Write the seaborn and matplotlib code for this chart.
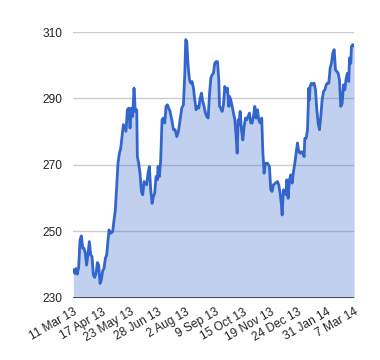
import pandas as pd
import matplotlib
matplotlib.use("Agg")
import matplotlib.pyplot as plt
import seaborn as sns

# positions, in days after 11 Mar 2013, and the price at each
days = [0, 2.1, 3.4, 5.1, 6.9, 8.6, 10.3, 12.0, 13.7, 15.4,
        17.1, 18.9, 20.6, 22.3, 24.0, 25.7, 27.4, 29.2, 30.9, 32.6,
        34.3, 36.0, 37.7, 39.4, 41.2, 42.9, 44.6, 45.9, 48.0, 50.6,
        52.3, 54.0, 55.7, 57.4, 59.2, 60.9, 62.6, 64.3, 66.0, 67.7,
        69.4, 71.2, 72.9, 74.6, 76.3, 78.0, 79.7, 81.5, 82.3, 84.0,
        85.7, 87.5, 89.2, 90.9, 92.6, 94.3, 96.0, 97.7, 99.5, 101.2,
        102.9, 104.6, 106.3, 108.0, 108.9, 110.6, 112.3, 114.0, 115.7, 117.5,
        119.2, 120.9, 122.6, 124.3, 126.5, 128.7, 130.8, 133.0, 135.1, 137.3,
        139.4, 141.5, 143.3, 144.5, 145.8, 147.6, 149.3, 151.0, 152.7, 154.4,
        156.1, 157.8, 159.6, 161.3, 163.0, 164.7, 166.4, 168.1, 169.8, 171.6,
        173.3, 175.0, 176.7, 178.4, 180.1, 181.8, 183.6, 185.3, 187.0, 187.9,
        189.6, 191.3, 193.0, 194.7, 196.4, 198.1, 199.9, 200.7, 202.4, 204.1,
        205.9, 207.6, 209.3, 210.6, 211.9, 213.1, 214.4, 216.1, 217.9, 219.6,
        221.3, 223.0, 224.7, 226.4, 228.1, 229.9, 231.6, 233.3, 235.0, 236.7,
        238.4, 240.1, 242.2, 243.5, 245.2, 246.9, 249.5, 252.1, 253.8, 255.5,
        257.2, 259.8, 262.4, 264.1, 265.8, 267.5, 268.4, 270.1, 271.8, 273.5,
        274.4, 276.1, 277.8, 279.5, 281.3, 283.0, 284.7, 286.4, 288.1, 289.8,
        291.5, 293.3, 295.0, 296.7, 297.5, 299.3, 301.0, 302.7, 303.5, 304.4,
        306.1, 307.8, 309.5, 311.3, 313.0, 314.7, 316.4, 318.1, 319.8, 321.6,
        323.3, 325.0, 326.7, 328.4, 330.1, 331.8, 333.6, 335.3, 337.0, 338.7,
        340.4, 342.1, 343.8, 345.6, 347.3, 349.0, 350.7, 352.4, 354.1, 355.0,
        356.7, 357.5, 359.2, 361.0]
price = [238.5, 237.3, 238.8, 237.1, 239.3, 247.4, 248.6, 244.9, 244.9, 243.4,
         239.8, 243.4, 246.9, 242.9, 242.4, 236.8, 236.1, 237.3, 240.6, 239.8,
         234.3, 235.3, 238.1, 238.8, 241.9, 242.9, 247.4, 250.4, 249.4, 249.9,
         253.4, 256.4, 263.5, 270.5, 273.5, 275.0, 278.5, 282.1, 281.1, 280.1,
         286.6, 287.1, 281.1, 287.1, 284.6, 293.1, 286.1, 286.6, 272.5, 270.5,
         267.5, 262.0, 261.0, 265.0, 264.5, 264.0, 267.5, 269.5, 262.5, 258.4,
         260.4, 261.5, 266.5, 265.5, 269.5, 266.5, 271.5, 283.6, 284.1, 282.6,
         287.6, 288.1, 287.1, 286.1, 283.6, 280.6, 280.6, 278.5, 280.1, 283.6,
         287.1, 288.1, 297.6, 307.7, 307.2, 299.6, 295.6, 294.6, 295.1, 293.1,
         289.6, 286.6, 287.6, 287.1, 290.1, 291.6, 289.1, 287.6, 285.6, 284.6,
         284.1, 291.1, 296.1, 297.1, 297.6, 300.6, 301.1, 301.1, 295.6, 287.6,
         287.1, 286.1, 288.1, 293.6, 292.1, 293.1, 287.6, 290.6, 289.6, 287.6,
         285.6, 283.6, 278.5, 273.5, 283.6, 282.1, 286.1, 280.6, 277.5, 281.6,
         284.1, 283.6, 284.6, 285.6, 282.6, 282.6, 284.6, 287.6, 284.1, 286.6,
         283.6, 282.6, 284.1, 274.5, 267.5, 270.5, 270.5, 269.5, 262.5, 262.0,
         264.0, 264.5, 265.0, 264.0, 261.5, 257.9, 254.9, 262.5, 262.0, 261.0,
         265.5, 259.9, 265.5, 267.0, 264.5, 268.0, 270.5, 273.5, 276.6, 274.0,
         273.5, 274.0, 273.5, 272.5, 278.0, 278.0, 280.6, 293.1, 289.6, 293.6,
         294.6, 294.1, 294.6, 292.6, 286.6, 282.6, 280.6, 284.6, 289.6, 292.1,
         292.6, 294.1, 294.6, 294.6, 299.1, 300.6, 303.7, 304.7, 298.6, 298.1,
         297.6, 295.6, 287.6, 288.6, 294.1, 292.6, 296.1, 297.6, 295.1, 302.2,
         300.6, 305.7, 306.2, 305.7]

tick_dates = ["2013-03-11", "2013-04-17", "2013-05-23", "2013-06-28", "2013-08-02",
              "2013-09-09", "2013-10-15", "2013-11-19", "2013-12-24", "2014-01-31",
              "2014-03-07"]
tick_labels = ["11 Mar 13", "17 Apr 13", "23 May 13", "28 Jun 13", "2 Aug 13",
               "9 Sep 13", "15 Oct 13", "19 Nov 13", "24 Dec 13", "31 Jan 14",
               "7 Mar 14"]
y_ticks = [230, 250, 270, 290, 310]

start = pd.Timestamp("2013-03-11")
df = pd.DataFrame({"date": start + pd.to_timedelta(days, unit="D"), "price": price})

sns.set_style("white")
plt.rcParams["font.family"] = ["Liberation Sans", "DejaVu Sans"]

fig = plt.figure(figsize=(3.8, 3.6), dpi=100)
ax = fig.add_axes([0.193, 0.173, 0.739, 0.738])

ax.fill_between(df["date"], 230, df["price"], color="#3366CC", alpha=0.3,
                linewidth=0, zorder=2)
sns.lineplot(data=df, x="date", y="price", ax=ax, color="#3366CC",
             linewidth=2, zorder=3)

ax.set_xlim(start, pd.Timestamp("2014-03-07"))
ax.set_ylim(230, 310)
ax.set_yticks(y_ticks)
ax.set_xticks(pd.to_datetime(tick_dates))
ax.set_xticklabels(tick_labels, rotation=30, ha="right", rotation_mode="anchor")

for y in y_ticks[1:]:
    ax.axhline(y, color="#CCCCCC", linewidth=1, zorder=1)
ax.axhline(230, color="#333333", linewidth=1.2, zorder=4)

for s in ax.spines.values():
    s.set_visible(False)
ax.tick_params(axis="both", length=0, labelsize=8.6, colors="#222222")
ax.tick_params(axis="y", pad=8)
ax.tick_params(axis="x", pad=6)
ax.set_xlabel("")
ax.set_ylabel("")

fig.savefig("out.png", dpi=100)
